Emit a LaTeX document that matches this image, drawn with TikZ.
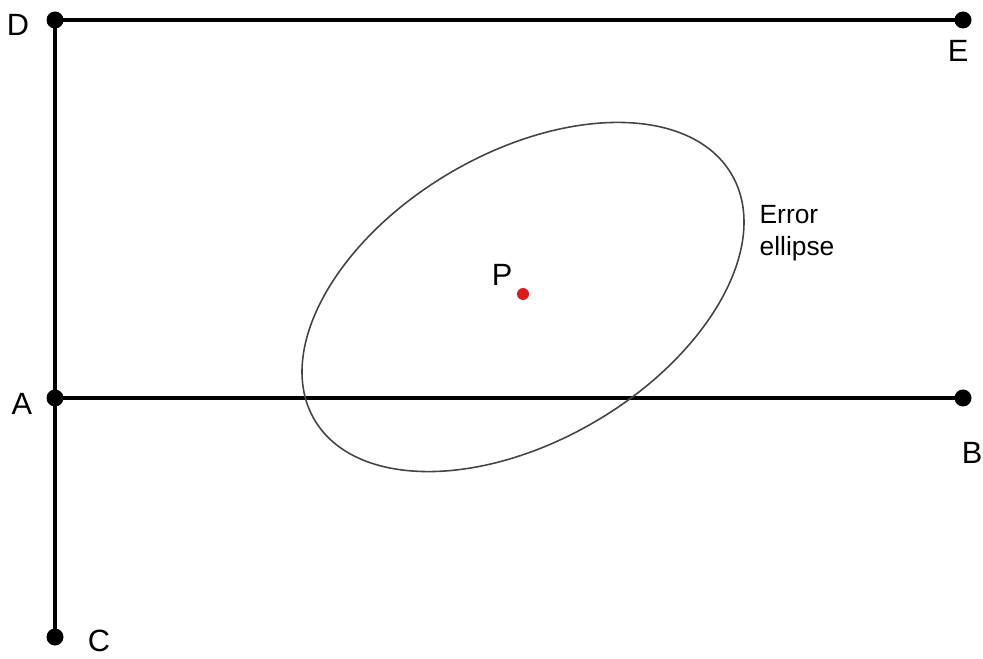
\documentclass[tikz,border=0pt]{standalone}
\usepackage{fontspec}
\setmainfont{Liberation Sans}
\usetikzlibrary{positioning}
\definecolor{PointRed}{HTML}{E01A1A}
\definecolor{EllipseGray}{HTML}{444444}

\begin{document}
\begin{tikzpicture}[
  font=\fontsize{17.5}{20}\selectfont,
  station/.style={circle, fill=black, inner sep=0pt, minimum size=0.34cm},
  target/.style={circle, fill=PointRed, inner sep=0pt, minimum size=0.24cm},
  baseline/.style={line width=1.9pt, draw=black},
  errorcurve/.style={line width=0.9pt, draw=EllipseGray}
]
\useasboundingbox (0,0) rectangle (19.66,13.16);

% survey stations
\node[station] (D) at (1.1,12.76) {};
\node[station] (E) at (19.26,12.76) {};
\node[station] (A) at (1.1,5.2) {};
\node[station] (B) at (19.26,5.2) {};
\node[station] (C) at (1.1,0.42) {};
\node[target] (P) at (10.46,7.28) {};

\draw[baseline] (D.center) -- (E.center);
\draw[baseline] (D.center) -- (C.center);
\draw[baseline] (A.center) -- (B.center);

% error ellipse around P
\draw[errorcurve] (10.46,7.22) ellipse[x radius=4.84cm, y radius=2.88cm, rotate=30.5];

\node (labD) at (0.36,12.66) {D};
\node (labE) at (19.16,12.14) {E};
\node (labA) at (0.44,5.08) {A};
\node (labB) at (19.44,4.10) {B};
\node (labC) at (1.98,0.34) {C};
\node (labP) at (10.04,7.66) {P};
\node[font=\fontsize{15}{18}\selectfont, align=left] (ellipse) at (15.94,8.5) {Error\\ellipse};

\end{tikzpicture}
\end{document}
